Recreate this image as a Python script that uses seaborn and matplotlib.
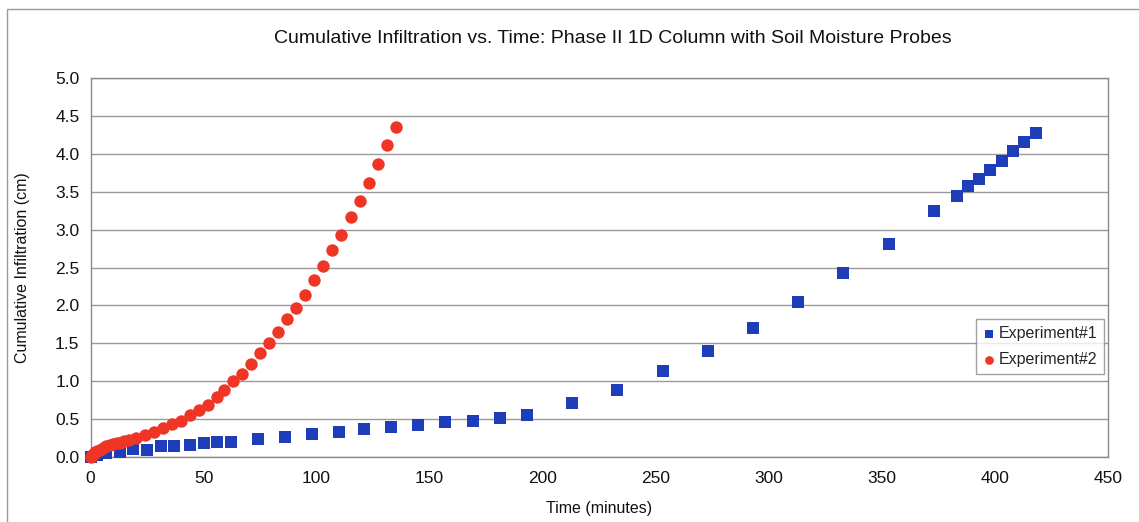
import matplotlib
matplotlib.use("Agg")
import matplotlib.pyplot as plt
from matplotlib.patches import Rectangle
import seaborn as sns
import pandas as pd

# ---- data ----
time_exp1 = [0, 3, 7, 13, 19, 25, 31, 37, 44, 50, 56, 62, 74, 86, 98, 110, 121, 133,
             145, 157, 169, 181, 193, 213, 233, 253, 273, 293, 313, 333, 353, 373,
             383, 388, 393, 398, 403, 408, 413, 418]
infil_exp1 = [0.00, 0.03, 0.05, 0.07, 0.10, 0.09, 0.14, 0.14, 0.16, 0.18, 0.20, 0.20,
              0.24, 0.26, 0.30, 0.325, 0.365, 0.40, 0.42, 0.46, 0.48, 0.52, 0.56, 0.71,
              0.88, 1.135, 1.40, 1.70, 2.045, 2.43, 2.81, 3.24, 3.44, 3.57, 3.67, 3.79,
              3.91, 4.04, 4.16, 4.27]

time_exp2 = [0, 0.5, 1, 2, 3, 4, 5.5, 7, 8.5, 10, 11.5, 13, 15, 17, 20, 24, 28, 32, 36,
             40, 44, 48, 52, 56, 59, 63, 67, 71, 75, 79, 83, 87, 91, 95, 99, 103, 107,
             111, 115, 119, 123, 127, 131, 135]
infil_exp2 = [0.00, 0.02, 0.03, 0.06, 0.08, 0.09, 0.12, 0.14, 0.16, 0.17, 0.18, 0.19,
              0.21, 0.22, 0.25, 0.29, 0.33, 0.38, 0.44, 0.47, 0.55, 0.62, 0.69, 0.79,
              0.88, 1.00, 1.10, 1.23, 1.37, 1.51, 1.65, 1.82, 1.97, 2.14, 2.34, 2.52,
              2.73, 2.93, 3.16, 3.38, 3.62, 3.87, 4.11, 4.35]

series_names = ["Experiment#1", "Experiment#2"]
x_ticks = [0, 50, 100, 150, 200, 250, 300, 350, 400, 450]
y_ticks = [0.0, 0.5, 1.0, 1.5, 2.0, 2.5, 3.0, 3.5, 4.0, 4.5, 5.0]

df = pd.concat([
    pd.DataFrame({"Time": time_exp1, "Infil": infil_exp1, "Series": series_names[0]}),
    pd.DataFrame({"Time": time_exp2, "Infil": infil_exp2, "Series": series_names[1]}),
], ignore_index=True)

sns.set_style("white")
plt.rcParams["font.family"] = ["Liberation Sans", "DejaVu Sans"]

fig = plt.figure(figsize=(11.39, 5.22), dpi=100)
ax = fig.add_axes([90.5 / 1139, 1 - 457 / 522, (1108 - 90.5) / 1139, (457 - 78) / 522])

palette = {"Experiment#1": "#1E3DB8", "Experiment#2": "#EE3526"}
markers = {"Experiment#1": "s", "Experiment#2": "o"}
sizes = {"Experiment#1": 70, "Experiment#2": 80}

for name in series_names:
    sub = df[df["Series"] == name]
    sns.scatterplot(data=sub, x="Time", y="Infil", color=palette[name],
                    marker=markers[name], s=sizes[name], linewidth=0,
                    ax=ax, label=name, zorder=3, clip_on=False)

ax.set_xlim(0, 450)
ax.set_ylim(0, 5.0)
ax.set_xticks(x_ticks)
ax.set_xticklabels([str(v) for v in x_ticks])
ax.set_yticks(y_ticks)
ax.set_yticklabels([f"{v:.1f}" for v in y_ticks])
ax.yaxis.grid(True, color="#9a9a9a", linewidth=1.0)
ax.xaxis.grid(False)
ax.set_axisbelow(True)

for side in ["left", "bottom", "top", "right"]:
    ax.spines[side].set_visible(True)
    ax.spines[side].set_color("#8a8a8a")
    ax.spines[side].set_linewidth(1.0)

ax.tick_params(axis="both", which="major", direction="out", length=5, width=1,
               color="#8a8a8a", labelsize=12.5, labelcolor="#111111", pad=3)
ax.tick_params(axis="x", pad=5)

ax.set_xlabel("Time (minutes)", fontsize=11.5, color="#111111", labelpad=11)
ax.set_ylabel("Cumulative Infiltration (cm)", fontsize=11.5, color="#111111", labelpad=18)
ax.set_title("Cumulative Infiltration vs. Time: Phase II 1D Column with Soil Moisture Probes",
             fontsize=14, color="#111111", pad=25, x=0.5135)

leg = ax.legend(loc="lower left", bbox_to_anchor=(0.8705, 0.218), frameon=True,
                fancybox=False, fontsize=11.5, handletextpad=0.25, borderpad=0.45,
                borderaxespad=0.0, labelspacing=0.7, handlelength=0.7, markerscale=0.7)
leg.get_frame().set_edgecolor("#8a8a8a")
leg.get_frame().set_linewidth(1.0)

# outer chart-area border
fig.patches.append(Rectangle((7 / 1139, -0.05), 1.2, 1 - 9 / 522 + 0.05,
                             transform=fig.transFigure, fill=False,
                             edgecolor="#9a9a9a", linewidth=1.0))

fig.savefig("out.png", dpi=100)
